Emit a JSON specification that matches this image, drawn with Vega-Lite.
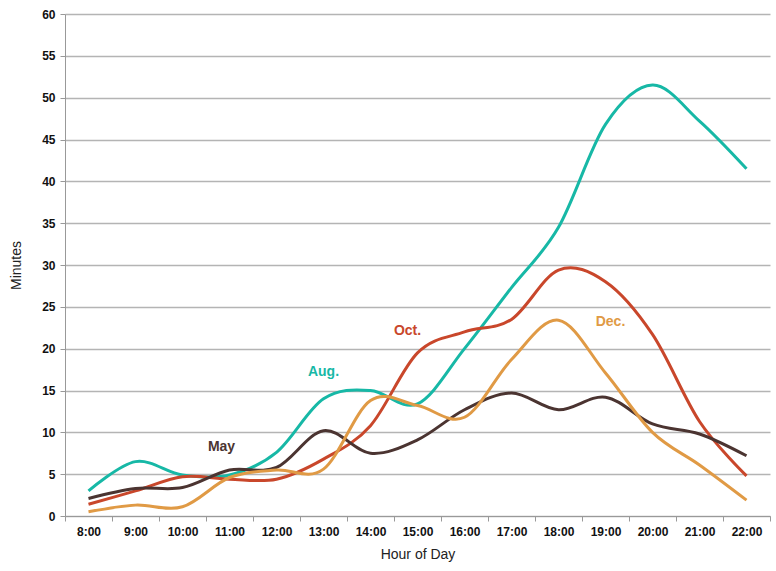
{
  "$schema": "https://vega.github.io/schema/vega-lite/v6.json",
  "width": 705,
  "height": 502,
  "autosize": {"type": "none"},
  "padding": {"left": 65, "top": 14, "right": 6, "bottom": 55},
  "background": "white",
  "config": {
    "view": {"stroke": null},
    "font": "Liberation Sans"
  },
  "datasets": {
    "series": [
      {"hour": "8:00", "h": 8, "month": "Aug.", "minutes": 3.0},
      {"hour": "9:00", "h": 9, "month": "Aug.", "minutes": 6.5},
      {"hour": "10:00", "h": 10, "month": "Aug.", "minutes": 4.9},
      {"hour": "11:00", "h": 11, "month": "Aug.", "minutes": 4.9},
      {"hour": "12:00", "h": 12, "month": "Aug.", "minutes": 7.6},
      {"hour": "13:00", "h": 13, "month": "Aug.", "minutes": 14.0},
      {"hour": "14:00", "h": 14, "month": "Aug.", "minutes": 15.0},
      {"hour": "15:00", "h": 15, "month": "Aug.", "minutes": 13.4},
      {"hour": "16:00", "h": 16, "month": "Aug.", "minutes": 20.0},
      {"hour": "17:00", "h": 17, "month": "Aug.", "minutes": 27.3},
      {"hour": "18:00", "h": 18, "month": "Aug.", "minutes": 34.5},
      {"hour": "19:00", "h": 19, "month": "Aug.", "minutes": 46.8},
      {"hour": "20:00", "h": 20, "month": "Aug.", "minutes": 51.5},
      {"hour": "21:00", "h": 21, "month": "Aug.", "minutes": 47.2},
      {"hour": "22:00", "h": 22, "month": "Aug.", "minutes": 41.5},
      {"hour": "8:00", "h": 8, "month": "Oct.", "minutes": 1.4},
      {"hour": "9:00", "h": 9, "month": "Oct.", "minutes": 3.0},
      {"hour": "10:00", "h": 10, "month": "Oct.", "minutes": 4.7},
      {"hour": "11:00", "h": 11, "month": "Oct.", "minutes": 4.4},
      {"hour": "12:00", "h": 12, "month": "Oct.", "minutes": 4.4},
      {"hour": "13:00", "h": 13, "month": "Oct.", "minutes": 6.8},
      {"hour": "14:00", "h": 14, "month": "Oct.", "minutes": 10.8},
      {"hour": "15:00", "h": 15, "month": "Oct.", "minutes": 19.5},
      {"hour": "16:00", "h": 16, "month": "Oct.", "minutes": 22.0},
      {"hour": "17:00", "h": 17, "month": "Oct.", "minutes": 23.5},
      {"hour": "18:00", "h": 18, "month": "Oct.", "minutes": 29.4},
      {"hour": "19:00", "h": 19, "month": "Oct.", "minutes": 28.0},
      {"hour": "20:00", "h": 20, "month": "Oct.", "minutes": 21.7},
      {"hour": "21:00", "h": 21, "month": "Oct.", "minutes": 11.3},
      {"hour": "22:00", "h": 22, "month": "Oct.", "minutes": 4.8},
      {"hour": "8:00", "h": 8, "month": "May", "minutes": 2.1},
      {"hour": "9:00", "h": 9, "month": "May", "minutes": 3.3},
      {"hour": "10:00", "h": 10, "month": "May", "minutes": 3.4},
      {"hour": "11:00", "h": 11, "month": "May", "minutes": 5.5},
      {"hour": "12:00", "h": 12, "month": "May", "minutes": 5.8},
      {"hour": "13:00", "h": 13, "month": "May", "minutes": 10.2},
      {"hour": "14:00", "h": 14, "month": "May", "minutes": 7.5},
      {"hour": "15:00", "h": 15, "month": "May", "minutes": 9.1},
      {"hour": "16:00", "h": 16, "month": "May", "minutes": 12.7},
      {"hour": "17:00", "h": 17, "month": "May", "minutes": 14.7},
      {"hour": "18:00", "h": 18, "month": "May", "minutes": 12.7},
      {"hour": "19:00", "h": 19, "month": "May", "minutes": 14.2},
      {"hour": "20:00", "h": 20, "month": "May", "minutes": 11.0},
      {"hour": "21:00", "h": 21, "month": "May", "minutes": 9.8},
      {"hour": "22:00", "h": 22, "month": "May", "minutes": 7.2},
      {"hour": "8:00", "h": 8, "month": "Dec.", "minutes": 0.5},
      {"hour": "9:00", "h": 9, "month": "Dec.", "minutes": 1.3},
      {"hour": "10:00", "h": 10, "month": "Dec.", "minutes": 1.1},
      {"hour": "11:00", "h": 11, "month": "Dec.", "minutes": 4.6},
      {"hour": "12:00", "h": 12, "month": "Dec.", "minutes": 5.5},
      {"hour": "13:00", "h": 13, "month": "Dec.", "minutes": 5.6},
      {"hour": "14:00", "h": 14, "month": "Dec.", "minutes": 13.8},
      {"hour": "15:00", "h": 15, "month": "Dec.", "minutes": 13.2},
      {"hour": "16:00", "h": 16, "month": "Dec.", "minutes": 11.8},
      {"hour": "17:00", "h": 17, "month": "Dec.", "minutes": 18.7},
      {"hour": "18:00", "h": 18, "month": "Dec.", "minutes": 23.4},
      {"hour": "19:00", "h": 19, "month": "Dec.", "minutes": 17.1},
      {"hour": "20:00", "h": 20, "month": "Dec.", "minutes": 10.0},
      {"hour": "21:00", "h": 21, "month": "Dec.", "minutes": 6.1},
      {"hour": "22:00", "h": 22, "month": "Dec.", "minutes": 1.9}
    ],
    "labels": [
      {"hour": "13:00", "month": "Aug.", "minutes": 17.2, "shift": 0},
      {"hour": "15:00", "month": "Oct.", "minutes": 22.1, "shift": -10},
      {"hour": "11:00", "month": "May", "minutes": 8.2, "shift": -8},
      {"hour": "19:00", "month": "Dec.", "minutes": 23.2, "shift": 5}
    ]
  },
  "layer": [
    {
      "data": {"name": "series"},
      "mark": {"type": "line", "interpolate": "cardinal", "tension": 0, "strokeWidth": 3, "strokeCap": "butt"},
      "encoding": {
        "x": {
          "field": "hour", "type": "ordinal",
          "sort": ["8:00","9:00","10:00","11:00","12:00","13:00","14:00","15:00","16:00","17:00","18:00","19:00","20:00","21:00","22:00"],
          "scale": {"type": "band", "paddingInner": 0, "paddingOuter": 0},
          "axis": {
            "title": "Hour of Day", "titleFont": "Liberation Sans", "titleFontWeight": "normal", "titleFontSize": 14, "titleColor": "#222", "titlePadding": 10,
            "labelAngle": 0, "labelFontWeight": "bold", "labelFontSize": 12, "labelColor": "#111", "labelPadding": 5,
            "tickBand": "extent", "tickSize": 5, "tickColor": "#999", "domainColor": "#999", "domainWidth": 1, "grid": false
          }
        },
        "y": {
          "field": "minutes", "type": "quantitative",
          "scale": {"domain": [0, 60], "nice": false},
          "axis": {
            "title": "Minutes", "titleFont": "Liberation Sans", "titleFontWeight": "normal", "titleFontSize": 14, "titleColor": "#222", "titlePadding": 18,
            "values": [0,5,10,15,20,25,30,35,40,45,50,55,60],
            "labelFontWeight": "bold", "labelFontSize": 12, "labelColor": "#111", "labelPadding": 5,
            "tickSize": 5, "tickColor": "#999", "domainColor": "#999",
            "grid": true, "gridColor": "#b4b4b4", "gridWidth": 1.5
          }
        },
        "color": {
          "field": "month", "type": "nominal",
          "scale": {"domain": ["Aug.", "Oct.", "May", "Dec."], "range": ["#17b8a6", "#c9472b", "#4b3431", "#e09a45"]},
          "legend": null
        },
        "order": {"field": "h", "type": "quantitative"}
      }
    },
    {
      "data": {"name": "labels"},
      "mark": {"type": "text", "fontWeight": "bold", "fontSize": 14, "font": "Liberation Sans", "align": "center", "baseline": "middle"},
      "encoding": {
        "x": {"field": "hour", "type": "ordinal", "sort": ["8:00","9:00","10:00","11:00","12:00","13:00","14:00","15:00","16:00","17:00","18:00","19:00","20:00","21:00","22:00"]},
        "y": {"field": "minutes", "type": "quantitative"},
        "xOffset": {"field": "shift", "type": "quantitative", "scale": {"domain": [-47, 47], "range": [-23.5, 70.5]}},
        "text": {"field": "month"},
        "color": {"field": "month", "type": "nominal", "legend": null}
      }
    }
  ]
}
